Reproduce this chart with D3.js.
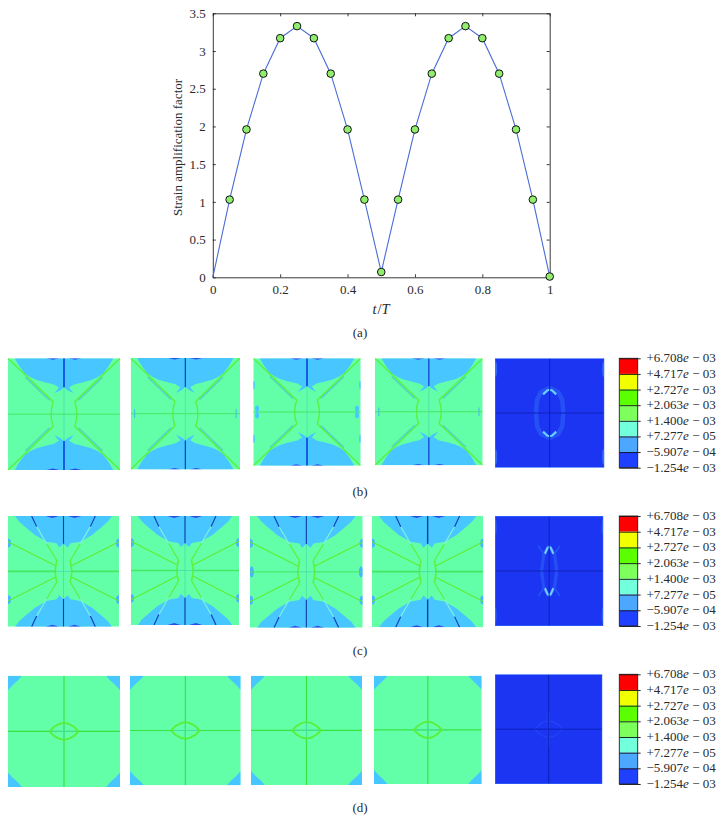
<!DOCTYPE html>
<html><head><meta charset="utf-8">
<script src="https://cdn.jsdelivr.net/npm/d3@7"></script>
<style>html,body{margin:0;padding:0;background:#fff}svg{display:block}text{font-family:"Liberation Serif",serif;fill:#2a2a2a}</style>
</head><body><div id="c"></div>
<script>
// ---- line chart data ----
const tValues=[0,.05,.1,.15,.2,.25,.3,.35,.4,.45,.5,.55,.6,.65,.7,.75,.8,.85,.9,.95,1];
const strainValues=[0,1.03,1.96,2.70,3.17,3.33,3.17,2.70,1.96,1.03,.07,1.03,1.96,2.70,3.17,3.33,3.17,2.70,1.96,1.03,.01];
const xTicks=[0,.2,.4,.6,.8,1];
const yTicks=[0,.5,1,1.5,2,2.5,3,3.5];
// ---- colour bar ----
const barLabels=["+6.708","+4.717","+2.727","+2.063","+1.400","+7.277","\u22125.907","\u22121.254"];
const barExponents=["03","03","03","03","03","05","04","03"];
const barColors=["#ff0000","#f2ff00","#5cff00","#7dff5c","#72ffdc","#4ca8ff","#1f40ff"];
// ---- contour shapes (fractions of a panel, one quadrant) ----
const bLobe=[[.06,0],[.10,.07],[.15,.135],[.20,.17],[.256,.195],[.33,.215],[.41,.235],[.455,.262],[.414,.313],[.47,.285],[.5,.26]];
const bDiagonal=[[0,0],[.405,.39]];
const bBand=[[.155,.17],[.37,.375]];
const bArc=[[.405,.39],[.39,.44],[.385,.5]];
const bLens=[[.345,0],[.40,.013],[.46,0]];
const cLobe=[[.063,0],[.10,.05],[.153,.096],[.243,.172],[.348,.232],[.438,.247],[.462,.285],[.5,.25]];
const cRayGreen=[[.438,.40],[.348,.25]];
const cRayPale=[[.348,.25],[.258,.096]];
const cRayNavy=[[.258,.096],[.213,0]];
const cSpoke=[[0,.232],[.433,.452]];
const cArc=[[.44,.40],[.43,.45],[.425,.5]];
const cLens=[[.34,0],[.40,.018],[.46,0]];
const dCorner=[[0,0],[.125,0],[.09,.04],[.04,.085],[0,.13]];
const dEye=[[.37,.5],[.41,.46],[.46,.432],[.5,.425]];
const hotRingB=[[.5,.27],[.42,.31],[.385,.38],[.375,.5]];
const hotArcB=[[.44,.33],[.48,.292],[.5,.29]];
const hotRingC=[[.5,.27],[.45,.35],[.43,.5]];
const hotArcC=[[.46,.345],[.485,.29],[.5,.28]];
const hotEye=[[.37,.5],[.41,.46],[.46,.432],[.5,.425]];
// ---- panel layout ----
const rows=[
 {kind:"b",bar:[358.3,467.7],panels:[[8,120,358.3,470],[130.7,240,358,469.5],[253.3,360.7,358.3,465.7],[375,482.7,358.3,465.3],[495,604.3,358.3,467.7]],
  edge:["none","tick","oval","tick"],spine:[["#1250e0",1.8],["#1238c8",1.2],["#1250e0",1.8],["#1238c8",1.2]]},
 {kind:"c",bar:[516,626],panels:[[8,119,516,626.7],[131,239,516,625],[250,362.7,516,627.7],[372,483.3,516,627.3],[495,603.3,516,626]],
  edge:["none","none","oval","none"],spine:[["#1238b0",1.1],["#1238b0",1.1],["#1238b0",1.1],["#1238b0",1.4]]},
 {kind:"d",bar:[674.3,784],panels:[[8,120,675.7,787],[130,240.7,675.7,785.3],[251,362,675.7,785],[374,481.7,675.7,784],[495,602.3,674.3,784]]}
];
const captions=[["(a)",332.5],["(b)",492],["(c)",650.5],["(d)",808]];

const W=724,H=822;
const svg=d3.select("#c").append("svg").attr("width",W).attr("height",H);
svg.append("defs").append("filter").attr("id","soft").append("feGaussianBlur").attr("stdDeviation",.5);

// ---- chart (a) ----
const x=d3.scaleLinear().domain([0,1]).range([212.8,549.7]);
const y=d3.scaleLinear().domain([0,3.5]).range([277.3,13.3]);
const gA=svg.append("g");
const axisStyle=g=>{g.selectAll("path,line").attr("stroke","#222").attr("stroke-width",.9);g.selectAll("text").style("font-size","13px").style("font-family","'Liberation Serif',serif").attr("fill","#2a2a2a");};
gA.append("g").attr("transform","translate(0,277.3)").call(d3.axisBottom(x).tickValues(xTicks).tickFormat(d=>d).tickSizeInner(-3).tickSizeOuter(0).tickPadding(7)).call(axisStyle);
gA.append("g").attr("transform","translate(0,13.3)").call(d3.axisTop(x).tickValues(xTicks).tickFormat("").tickSizeInner(-3).tickSizeOuter(0)).call(axisStyle);
gA.append("g").attr("transform","translate(212.8,0)").call(d3.axisLeft(y).tickValues(yTicks).tickFormat(d=>d).tickSizeInner(-3).tickSizeOuter(0).tickPadding(7)).call(axisStyle);
gA.append("g").attr("transform","translate(549.7,0)").call(d3.axisRight(y).tickValues(yTicks).tickFormat("").tickSizeInner(-3).tickSizeOuter(0)).call(axisStyle);
const pts=tValues.map((t,i)=>[t,strainValues[i]]);
gA.append("path").datum(pts).attr("fill","none").attr("stroke","#4a6cd6").attr("stroke-width",1.1)
  .attr("d",d3.line().x(d=>x(d[0])).y(d=>y(d[1])));
gA.selectAll("circle").data(pts.slice(1)).join("circle").attr("cx",d=>x(d[0])).attr("cy",d=>y(d[1])).attr("r",3.8)
  .attr("fill","#8fee6e").attr("stroke","#111").attr("stroke-width",1);
gA.append("text").attr("transform","translate(182,147.5) rotate(-90)").attr("text-anchor","middle").style("font-size","13px").text("Strain amplification factor");
const xl=gA.append("text").attr("x",381).attr("y",313.5).attr("text-anchor","middle").style("font-size","14.5px");
xl.append("tspan").attr("font-style","italic").text("t");xl.append("tspan").attr("dx",1).text("/");xl.append("tspan").attr("font-style","italic").text("T");

captions.forEach(c=>svg.append("text").attr("x",360).attr("y",c[1]+4).attr("text-anchor","middle").style("font-size","13px").text(c[0]));

// ---- panels ----
const flips=[[0,0],[1,0],[0,1],[1,1]];
function drawPanel(box,draw){
  const sx=d3.scaleLinear().domain([0,1]).range([box[0],box[1]]);
  const sy=d3.scaleLinear().domain([0,1]).range([box[2],box[3]]);
  const g=svg.append("g").attr("filter","url(#soft)");
  const api={
    sx,sy,
    rect(fill){g.append("rect").attr("x",box[0]).attr("y",box[2]).attr("width",box[1]-box[0]).attr("height",box[3]-box[2]).attr("fill",fill);},
    path(p,o){g.append("path").datum(p).attr("fill",o.fill||"none").attr("stroke",o.stroke||"none").attr("stroke-width",o.w||1).attr("stroke-linecap","butt").attr("stroke-linejoin","round")
      .attr("d",d3.line().x(d=>sx(d[0])).y(d=>sy(d[1]))(p)+(o.fill?"Z":""));},
    q(p,o){flips.forEach(f=>api.path(p.map(d=>[f[0]?1-d[0]:d[0],f[1]?1-d[1]:d[1]]),o));},
    lobes(p,fill){[0,1].forEach(fl=>{const half=p.concat(p.slice(0,-1).reverse().map(d=>[1-d[0],d[1]]));
      api.path(half.map(d=>[d[0],fl?1-d[1]:d[1]]),{fill});});},
    border(c){g.append("rect").attr("x",box[0]).attr("y",box[2]).attr("width",box[1]-box[0]).attr("height",box[3]-box[2]).attr("fill","none").attr("stroke",c).attr("stroke-width",1);},
    oval(u,v,ru,rv,fill){g.append("ellipse").attr("cx",sx(u)).attr("cy",sy(v)).attr("rx",sx(ru)-sx(0)).attr("ry",sy(rv)-sy(0)).attr("fill",fill);},
    clip(){const id="k"+Math.round(box[0])+"_"+Math.round(box[2]);
      g.append("clipPath").attr("id",id).append("rect").attr("x",box[0]).attr("y",box[2]).attr("width",box[1]-box[0]).attr("height",box[3]-box[2]);g.attr("clip-path","url(#"+id+")");}
  };
  draw(api);
}
const MAIN="#64ffa8",LOBE="#46c6ff",LINE="#5cf040",THIN="#46e660",TEAL="#4adcaa";
function panelB(a,edge,sp){
  a.rect(MAIN);a.lobes(bLobe,LOBE);
  a.q(bLens,{fill:"#2f4ce6"});
  a.q(bDiagonal,{stroke:LINE,w:1.5});
  a.q(bBand,{stroke:"#4ed4c4",w:1.4});
  a.q(bArc,{stroke:LINE,w:1.4});
  a.path([[0,.5],[1,.5]],{stroke:THIN,w:1});
  a.path([[.5,.26],[.5,.74]],{stroke:TEAL,w:.8});
  a.path([[.5,0],[.5,.26]],{stroke:sp[0],w:sp[1]});
  a.path([[.5,.74],[.5,1]],{stroke:sp[0],w:sp[1]});
  [.035,.965].forEach(u=>{
    if(edge==="tick") a.path([[u,.46],[u,.54]],{stroke:"#4cc4d8",w:1.2});
    if(edge==="oval"){a.oval(u,.47,.018,.03,LOBE);a.oval(u,.53,.018,.03,LOBE);}
  });
  if(edge==="oval")[[.004,.25],[.996,.25],[.004,.75],[.996,.75]].forEach(c=>a.oval(c[0],c[1],.01,.04,LOBE));
}
function panelC(a,edge,sp){
  a.rect(MAIN);a.lobes(cLobe,LOBE);
  a.q(cLens,{fill:"#2f4ce6"});
  [.245,.755].forEach(v=>{a.oval(0,v,.028,.04,"#4cb4ff");a.oval(1,v,.028,.04,"#4cb4ff");});
  if(edge==="oval"){a.oval(.015,.5,.02,.05,"#4cb4ff");a.oval(.985,.5,.02,.05,"#4cb4ff");}
  a.q(cRayGreen,{stroke:LINE,w:1.2});
  a.q(cRayPale,{stroke:"#80f0dc",w:1.2});
  a.q(cRayNavy,{stroke:"#123ab4",w:1.1});
  a.q(cSpoke,{stroke:"#5cee30",w:1.1});
  a.q(cArc,{stroke:LINE,w:1.6});
  const hw=edge==="oval"?1:1.7;
  a.path([[0,.5],[.43,.5]],{stroke:THIN,w:hw});a.path([[.57,.5],[1,.5]],{stroke:THIN,w:hw});
  a.path([[.43,.5],[.57,.5]],{stroke:TEAL,w:.9});
  a.path([[.5,.25],[.5,.75]],{stroke:TEAL,w:.8});
  a.path([[.5,0],[.5,.25]],{stroke:sp[0],w:sp[1]});
  a.path([[.5,.75],[.5,1]],{stroke:sp[0],w:sp[1]});
}
function panelD(a){
  a.rect(MAIN);a.q(dCorner,{fill:LOBE});
  a.path([[0,.5],[1,.5]],{stroke:"#38e440",w:1.2});
  a.path([[.5,0],[.5,1]],{stroke:"#38e440",w:1.2});
  a.path([[.39,.5],[.61,.5]],{stroke:TEAL,w:.9});
  a.path([[.5,.43],[.5,.57]],{stroke:TEAL,w:.9});
  a.q(dEye,{stroke:"#58f03c",w:1.9});
}
function panelHot(a,kind){
  a.rect("#1a36f2");
  if(kind==="b"){
    a.q(hotRingB,{stroke:"#2650f4",w:4.5});
    a.q(hotArcB,{stroke:"#6ccfff",w:2.2});
    [[.008,.1],[.992,.1],[.008,.9],[.992,.9]].forEach(c=>a.oval(c[0],c[1],.012,.07,"#3268fa"));
  }else if(kind==="c"){
    a.q(hotRingC,{stroke:"#2650f4",w:3.2});
    a.q(hotArcC,{stroke:"#6ccfff",w:2.2});
    a.q([[.40,.27],[.46,.36]],{stroke:"#2650f4",w:1.8});
    [[.006,.1],[.994,.1],[.006,.9],[.994,.9]].forEach(c=>a.oval(c[0],c[1],.01,.07,"#2a58f6"));
  }else{
    a.q(hotEye,{stroke:"#2242f4",w:1.5});
    a.path([[.5,.34],[.5,.66]],{stroke:"#2648f4",w:1.8});
  }
  a.path([[0,.5],[1,.5]],{stroke:"#0a20b4",w:.9});
  a.path([[.5,0],[.5,1]],{stroke:"#0a20b4",w:.9});
  a.border("#3f7cff");
}
rows.forEach(r=>{
  r.panels.forEach((box,i)=>drawPanel(box,a=>{
    a.clip();
    if(i===4) panelHot(a,r.kind);
    else if(r.kind==="b") panelB(a,r.edge[i],r.spine[i]);
    else if(r.kind==="c") panelC(a,r.edge[i],r.spine[i]);
    else panelD(a);
  }));
  // colour bar
  const sb=d3.scaleLinear().domain([0,barColors.length]).range(r.bar);
  const bx=619.3,bw=18.4;
  const g=svg.append("g");
  g.selectAll("rect").data(barColors).join("rect").attr("x",bx).attr("width",bw)
    .attr("y",(d,i)=>sb(i)).attr("height",(d,i)=>sb(i+1)-sb(i)).attr("fill",d=>d);
  const sp=d3.scalePoint().domain(barLabels.map((d,i)=>i)).range(r.bar);
  const ax=g.append("g").attr("transform",`translate(${bx},0)`).call(d3.axisRight(sp).tickSizeInner(21.4).tickSizeOuter(0).tickPadding(6).tickFormat(""));
  ax.select(".domain").remove();
  ax.selectAll("line").attr("stroke","#111").attr("stroke-width",.9);
  g.append("rect").attr("x",bx).attr("y",r.bar[0]).attr("width",bw).attr("height",r.bar[1]-r.bar[0]).attr("fill","none").attr("stroke","#222").attr("stroke-width",.9);
  barLabels.forEach((lab,i)=>{
    const t=g.append("text").attr("x",646.5).attr("y",sp(i)+4).style("font-size","13px");
    t.append("tspan").text(lab);
    t.append("tspan").attr("font-style","italic").text("e");
    t.append("tspan").text(" \u2212 "+barExponents[i]);
  });
});
</script></body></html>
